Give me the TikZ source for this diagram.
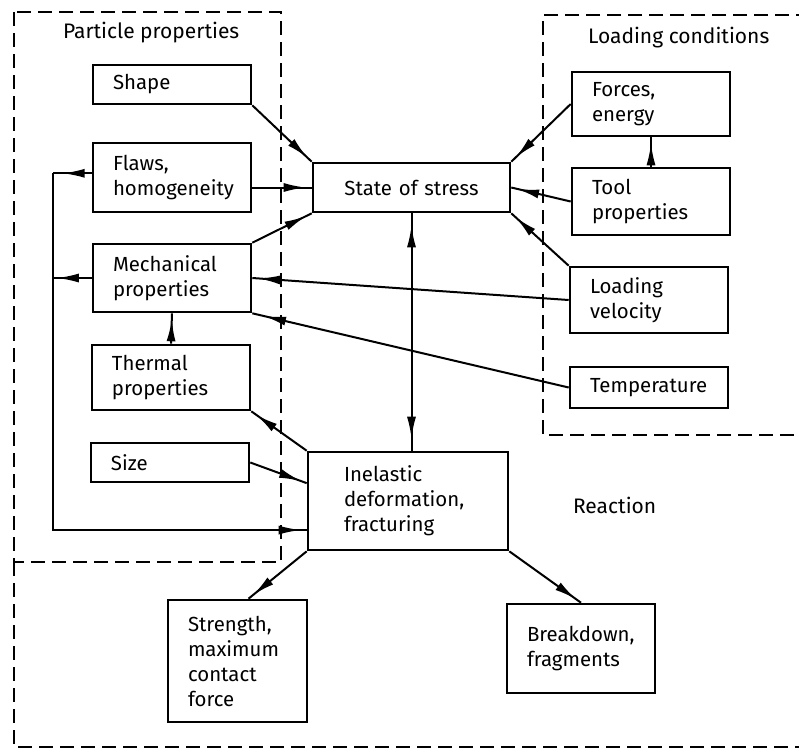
\documentclass[tikz,border=0pt]{standalone}
\usepackage{fontspec}
\setmainfont{Fira Sans}
\usetikzlibrary{arrows.meta,decorations.markings}

\tikzset{
  blk/.style={draw, line width=1.3pt, align=left, inner xsep=10pt, inner ysep=2pt,
    font=\fontsize{10.2}{12.5}\selectfont},
  frame/.style={line width=1.1pt, dash pattern=on 7pt off 3.5pt},
  link/.style={line width=1pt},
  headat/.style={link, postaction={decorate}, decoration={markings,
    mark=at position #1 with {\arrow{Latex[length=11pt,width=4.5pt]}}}},
  headat/.default=-3pt,
  twoheads/.style={link, postaction={decorate}, decoration={markings,
    mark=at position 6pt with {\arrowreversed{Latex[length=11pt,width=4.5pt]}},
    mark=at position -6pt with {\arrow{Latex[length=11pt,width=4.5pt]}}}},
  title/.style={anchor=west, font=\fontsize{10.5}{12.5}\selectfont},
}

\begin{document}
\begin{tikzpicture}[x=0.5pt, y=-0.5pt]
	\useasboundingbox (0,0) rectangle (799,752);
	% dashed regions
	\draw[frame] (14,12) rectangle (281,562);
	\draw[frame] (810,15) -- (543,15) -- (543,435) -- (810,435);
	\draw[frame] (14,562) -- (14,747) -- (810,747);
	\node[title] (tpart) at (56,33) {Particle properties};
	\node[title] (tload) at (581,38) {Loading conditions};
	\node[title] (treac) at (566,505) {Reaction};

	% particle properties
	\node[blk, text width=59pt, minimum height=19.5pt] (shape) at (172,84.5) {Shape};
	\node[blk, text width=59pt, minimum height=34.5pt] (flaws) at (172,177.5) {Flaws,\\homogeneity};
	\node[blk, text width=59pt, minimum height=34pt] (mech) at (172,278) {Mechanical\\properties};
	\node[blk, text width=59pt, minimum height=32.5pt] (thermal) at (171,377.5) {Thermal\\properties};
	\node[blk, text width=59pt, minimum height=19.5pt] (size) at (170,462.5) {Size};

	% loading conditions
	\node[blk, text width=59pt, minimum height=32pt] (forces) at (651,104) {Forces,\\energy};
	\node[blk, text width=59pt, minimum height=33.5pt] (tool) at (651,201.5) {Tool\\properties};
	\node[blk, text width=59pt, minimum height=33pt] (velocity) at (649,300) {Loading\\velocity};
	\node[blk, text width=59pt, minimum height=20.5pt] (temp) at (649,387.5) {Temperature};

	% centre and reaction
	\node[blk, align=center, text width=78.5pt, minimum height=24.5pt] (stress) at (411.5,187.5) {State of stress};
	\node[blk, inner xsep=18pt, text width=64pt, minimum height=49pt] (inelastic) at (408,501) {Inelastic\\deformation,\\fracturing};
	\node[blk, text width=49.5pt, minimum height=61pt] (strength) at (237.5,661) {Strength,\\maximum\\contact\\force};
	\node[blk, text width=54pt, minimum height=44.5pt] (breakdown) at (581,648.5) {Breakdown,\\fragments};

	% into the state of stress
	\draw[headat] (shape.south east) -- (stress.north west);
	\draw[headat] (flaws.east |- stress.west) -- (stress.west);
	\draw[headat] (mech.north east) -- (stress.south west);
	\draw[headat] (forces.west) -- (stress.north east);
	\draw[headat] (tool.west) -- (stress.east);
	\draw[headat] (velocity.north west) -- (stress.south east);
	\draw[headat] (tool.north) -- (forces.south);

	% into the mechanical properties
	\draw[headat] (velocity.west) -- (mech.east);
	\draw[headat=-6pt] (temp.west) -- (mech.south east);
	\draw[headat] (thermal.north) -- (mech.south);

	% stress and deformation
	\draw[twoheads] (stress.south) -- (stress.south |- inelastic.north);
	\draw[headat=-3pt] (inelastic.north west) -- (thermal.south east);
	\draw[headat] (size.east) -- (inelastic.170);

	% feedback loop on the left
	\coordinate (bus) at (53,0);
	\draw[headat=0.75] (flaws.177) -- (flaws.177 -| bus);
	\draw[headat=0.9] (mech.west) -- (mech.west -| bus);
	\draw[headat] (flaws.177 -| bus) |- (inelastic.196);

	% reaction
	\draw[headat] (inelastic.south west) -- (strength.80);
	\draw[headat] (inelastic.south east) -- (breakdown.north);
\end{tikzpicture}
\end{document}
